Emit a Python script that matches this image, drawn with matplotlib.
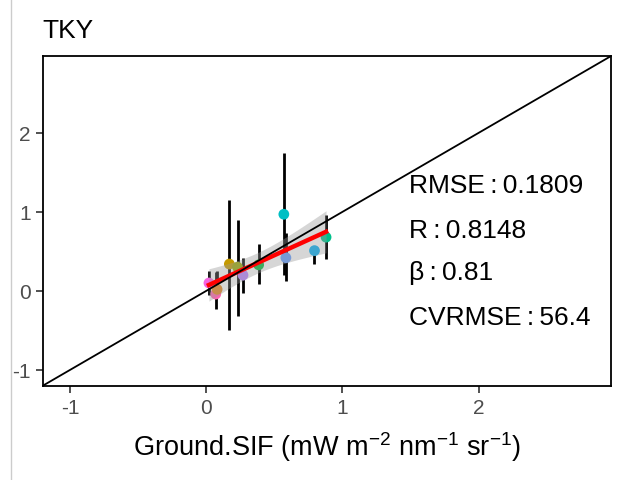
import numpy as np
import matplotlib
matplotlib.use("Agg")
from matplotlib import pyplot as plt
from matplotlib.lines import Line2D

plt.rcParams['font.family'] = ['Liberation Sans', 'DejaVu Sans']
plt.rcParams['mathtext.fontset'] = 'custom'
plt.rcParams['mathtext.rm'] = 'Liberation Sans'
plt.rcParams['mathtext.it'] = 'Liberation Sans:italic'
plt.rcParams['axes.unicode_minus'] = False

# ground vs satellite SIF, one point per site-year
ground = [0.02, 0.07, 0.08, 0.17, 0.23, 0.27, 0.385, 0.57, 0.585, 0.795, 0.88]
sat = [0.10, -0.04, 0.02, 0.34, 0.30, 0.20, 0.33, 0.97, 0.42, 0.51, 0.68]
sat_lo = [-0.05, -0.23, -0.05, -0.49, -0.32, -0.03, 0.085, 0.20, 0.12, 0.34, 0.405]
sat_hi = [0.25, 0.24, 0.25, 1.15, 0.90, 0.42, 0.59, 1.75, 0.73, 0.565, 0.955]
cols = ['#F564E3', '#FF64B0', '#E7861B', '#C49A00', '#99A800', '#B983FF',
        '#00BA38', '#00BFC4', '#619CFF', '#00B0F6', '#00C08B']

sep = '\u2009:\u2009'
stats = ['RMSE' + sep + '0.1809', 'R' + sep + '0.8148',
         '\u03b2' + sep + '0.81', 'CVRMSE' + sep + '56.4']
stat_y = [1.34, 0.77, 0.24, -0.33]

x = np.array(ground)
y = np.array(sat)

fig = plt.figure(figsize=(6.2, 4.81), dpi=100)
ax = fig.add_axes([0.069, 0.196, 0.916, 0.685])
lims = (-1.2, 2.97)

ax.vlines(x, sat_lo, sat_hi, color='black', lw=2, zorder=2)
ax.scatter(x, y, c=cols, s=60, zorder=3, edgecolors='none')

# linear fit + 95% band
b, a = np.polyfit(x, y, 1)
xs = np.linspace(x.min(), x.max(), 80)
n = len(x)
resid = y - (a + b * x)
s = np.sqrt(np.sum(resid ** 2) / (n - 2))
se = s * np.sqrt(1 / n + (xs - x.mean()) ** 2 / np.sum((x - x.mean()) ** 2))
t = 2.262
ax.fill_between(xs, a + b * xs - t * se, a + b * xs + t * se,
                color='#999999', alpha=0.4, lw=0, zorder=4)
ax.plot(xs, a + b * xs, color='red', lw=3.2, zorder=5)
ax.plot(lims, lims, color='black', lw=1.3, zorder=6)

for txt, ty in zip(stats, stat_y):
    ax.text(1.49, ty, txt, fontsize=19, va='center', ha='left', zorder=7)

ax.set_xlim(lims)
ax.set_ylim(lims)
ax.set_xticks([-1, 0, 1, 2])
ax.set_yticks([-1, 0, 1, 2])
ax.tick_params(colors='#333333', labelcolor='#4D4D4D', labelsize=15,
               length=5, width=1.2, direction='out')
for sp in ax.spines.values():
    sp.set_color('black')
    sp.set_linewidth(1.3)

ax.set_xlabel(r'Ground.SIF (mW m$^{-2}$ nm$^{-1}$ sr$^{-1}$)', fontsize=19.5, labelpad=9)
fig.text(0.068, 0.935, 'TKY', fontsize=19, ha='left', va='center')

fig.add_artist(Line2D([0.017, 0.017], [0, 1], color='#CCCCCC', lw=1))

fig.savefig('out.png', dpi=100)
